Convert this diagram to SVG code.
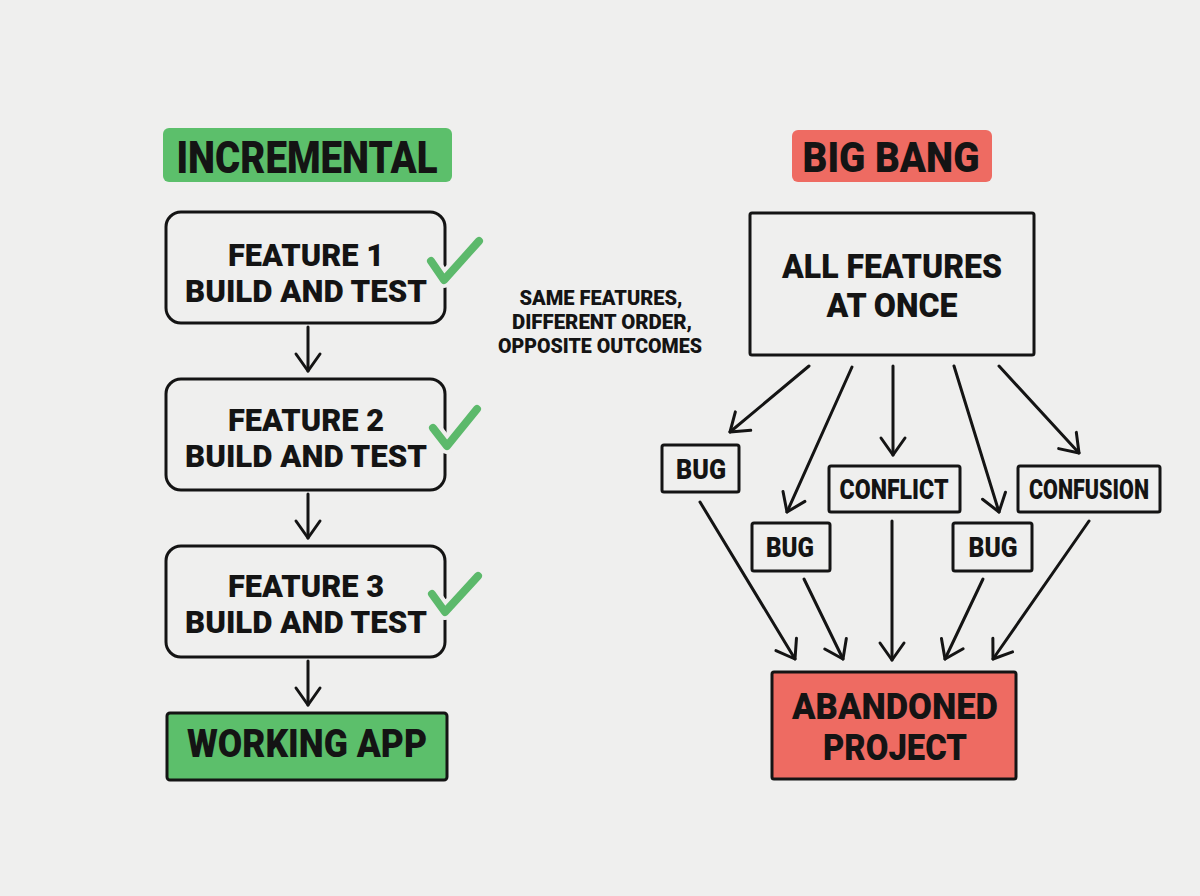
<svg xmlns="http://www.w3.org/2000/svg" width="1200" height="896" viewBox="0 0 1200 896">
  <style>
    .bg { fill: #efefee; }
    .box { fill: none; stroke: #141414; stroke-width: 3; stroke-linejoin: round; }
    .green { fill: #5cbf6b; }
    .red { fill: #ee6b62; }
    .t { font-family: Roboto, "Liberation Sans", sans-serif; font-weight: 900; fill: #141414; text-anchor: middle; }
    .edge { fill: none; stroke: #141414; stroke-width: 3; stroke-linecap: round; }
    .check { fill: none; stroke: #5cb96b; stroke-width: 8; stroke-linecap: round; stroke-linejoin: round; }
    .halo { fill: none; stroke: #efefee; stroke-width: 16; stroke-linecap: round; stroke-linejoin: round; }
  </style>
  <defs>
    <marker id="arrow" markerUnits="userSpaceOnUse" markerWidth="40" markerHeight="40" refX="0" refY="0" orient="auto" viewBox="-20 -20 40 40" overflow="visible">
      <path d="M -17,-12 L 0,0 L -17,12" fill="none" stroke="#141414" stroke-width="3" stroke-linecap="round" stroke-linejoin="round"/>
    </marker>
  </defs>

  <rect class="bg" x="0" y="0" width="1200" height="896"/>

  <!-- left column: incremental -->
  <g id="incremental-title">
    <rect class="green" x="163" y="128" width="289" height="54" rx="6"/>
    <text class="t" x="307" y="173" font-size="44" textLength="261" lengthAdjust="spacingAndGlyphs">INCREMENTAL</text>
  </g>

  <g id="feature-1">
    <rect class="box" x="166" y="212" width="279" height="111" rx="15"/>
    <text class="t" x="306" y="266" font-size="31" textLength="156" lengthAdjust="spacingAndGlyphs">FEATURE 1</text>
    <text class="t" x="306" y="302" font-size="31" textLength="242" lengthAdjust="spacingAndGlyphs">BUILD AND TEST</text>
    <path class="halo" d="M 431,261 L 444,280 L 479,241"/>
    <path class="check" d="M 431,261 L 444,280 L 479,241"/>
  </g>

  <g id="feature-2">
    <rect class="box" x="166" y="379" width="279" height="111" rx="15"/>
    <text class="t" x="306" y="431" font-size="31" textLength="156" lengthAdjust="spacingAndGlyphs">FEATURE 2</text>
    <text class="t" x="306" y="467" font-size="31" textLength="242" lengthAdjust="spacingAndGlyphs">BUILD AND TEST</text>
    <path class="halo" d="M 433,428 L 447,446 L 477,409"/>
    <path class="check" d="M 433,428 L 447,446 L 477,409"/>
  </g>

  <g id="feature-3">
    <rect class="box" x="166" y="546" width="279" height="111" rx="15"/>
    <text class="t" x="306" y="597" font-size="31" textLength="156" lengthAdjust="spacingAndGlyphs">FEATURE 3</text>
    <text class="t" x="306" y="633" font-size="31" textLength="242" lengthAdjust="spacingAndGlyphs">BUILD AND TEST</text>
    <path class="halo" d="M 432,594 L 445,612 L 478,576"/>
    <path class="check" d="M 432,594 L 445,612 L 478,576"/>
  </g>

  <g id="working-app">
    <rect class="green box" x="167" y="713" width="280" height="67" rx="3"/>
    <text class="t" x="307" y="757" font-size="38" textLength="240" lengthAdjust="spacingAndGlyphs">WORKING APP</text>
  </g>

  <!-- caption between the two columns -->
  <g id="caption">
    <text class="t" x="601" y="305" font-size="20" textLength="163" lengthAdjust="spacingAndGlyphs">SAME FEATURES,</text>
    <text class="t" x="602" y="329" font-size="20" textLength="180" lengthAdjust="spacingAndGlyphs">DIFFERENT ORDER,</text>
    <text class="t" x="600" y="353" font-size="20" textLength="204" lengthAdjust="spacingAndGlyphs">OPPOSITE OUTCOMES</text>
  </g>

  <!-- right column: big bang -->
  <g id="bigbang-title">
    <rect class="red" x="792" y="130" width="200" height="52" rx="6"/>
    <text class="t" x="891" y="172" font-size="43" textLength="177" lengthAdjust="spacingAndGlyphs">BIG BANG</text>
  </g>

  <g id="all-features">
    <rect class="box" x="750" y="213" width="284" height="142" rx="2"/>
    <text class="t" x="892" y="278" font-size="33" textLength="220" lengthAdjust="spacingAndGlyphs">ALL FEATURES</text>
    <text class="t" x="892" y="317" font-size="33" textLength="131" lengthAdjust="spacingAndGlyphs">AT ONCE</text>
  </g>

  <g id="bug-1">
    <rect class="box" x="662" y="445" width="77" height="47" rx="2"/>
    <text class="t" x="701" y="479" font-size="27" textLength="50" lengthAdjust="spacingAndGlyphs">BUG</text>
  </g>
  <g id="bug-2">
    <rect class="box" x="752" y="523" width="78" height="48" rx="2"/>
    <text class="t" x="790" y="557" font-size="27" textLength="48" lengthAdjust="spacingAndGlyphs">BUG</text>
  </g>
  <g id="conflict">
    <rect class="box" x="829" y="466" width="131" height="46" rx="2"/>
    <text class="t" x="894" y="499" font-size="27" textLength="109" lengthAdjust="spacingAndGlyphs">CONFLICT</text>
  </g>
  <g id="bug-3">
    <rect class="box" x="953" y="523" width="79" height="48" rx="2"/>
    <text class="t" x="993" y="557" font-size="27" textLength="49" lengthAdjust="spacingAndGlyphs">BUG</text>
  </g>
  <g id="confusion">
    <rect class="box" x="1018" y="466" width="142" height="46" rx="2"/>
    <text class="t" x="1089" y="499" font-size="27" textLength="120" lengthAdjust="spacingAndGlyphs">CONFUSION</text>
  </g>

  <g id="abandoned">
    <rect class="red box" x="772" y="672" width="244" height="107" rx="2"/>
    <text class="t" x="895" y="719" font-size="36" textLength="206" lengthAdjust="spacingAndGlyphs">ABANDONED</text>
    <text class="t" x="895" y="760" font-size="36" textLength="144" lengthAdjust="spacingAndGlyphs">PROJECT</text>
  </g>

  <!-- connectors -->
  <g id="connectors">
    <line class="edge" x1="308" y1="327" x2="308" y2="371" marker-end="url(#arrow)"/>
    <line class="edge" x1="308" y1="494" x2="308" y2="538" marker-end="url(#arrow)"/>
    <line class="edge" x1="308" y1="661" x2="308" y2="705" marker-end="url(#arrow)"/>

    <line class="edge" x1="809" y1="366" x2="730" y2="432" marker-end="url(#arrow)"/>
    <line class="edge" x1="852" y1="367" x2="787" y2="512" marker-end="url(#arrow)"/>
    <line class="edge" x1="893" y1="366" x2="893" y2="455" marker-end="url(#arrow)"/>
    <line class="edge" x1="954" y1="366" x2="999" y2="512" marker-end="url(#arrow)"/>
    <line class="edge" x1="999" y1="366" x2="1079" y2="453" marker-end="url(#arrow)"/>

    <line class="edge" x1="700" y1="502" x2="795" y2="659" marker-end="url(#arrow)"/>
    <line class="edge" x1="804" y1="579" x2="843" y2="659" marker-end="url(#arrow)"/>
    <line class="edge" x1="892" y1="521" x2="892" y2="660" marker-end="url(#arrow)"/>
    <line class="edge" x1="983" y1="579" x2="945" y2="659" marker-end="url(#arrow)"/>
    <line class="edge" x1="1089" y1="521" x2="993" y2="659" marker-end="url(#arrow)"/>
  </g>
</svg>
